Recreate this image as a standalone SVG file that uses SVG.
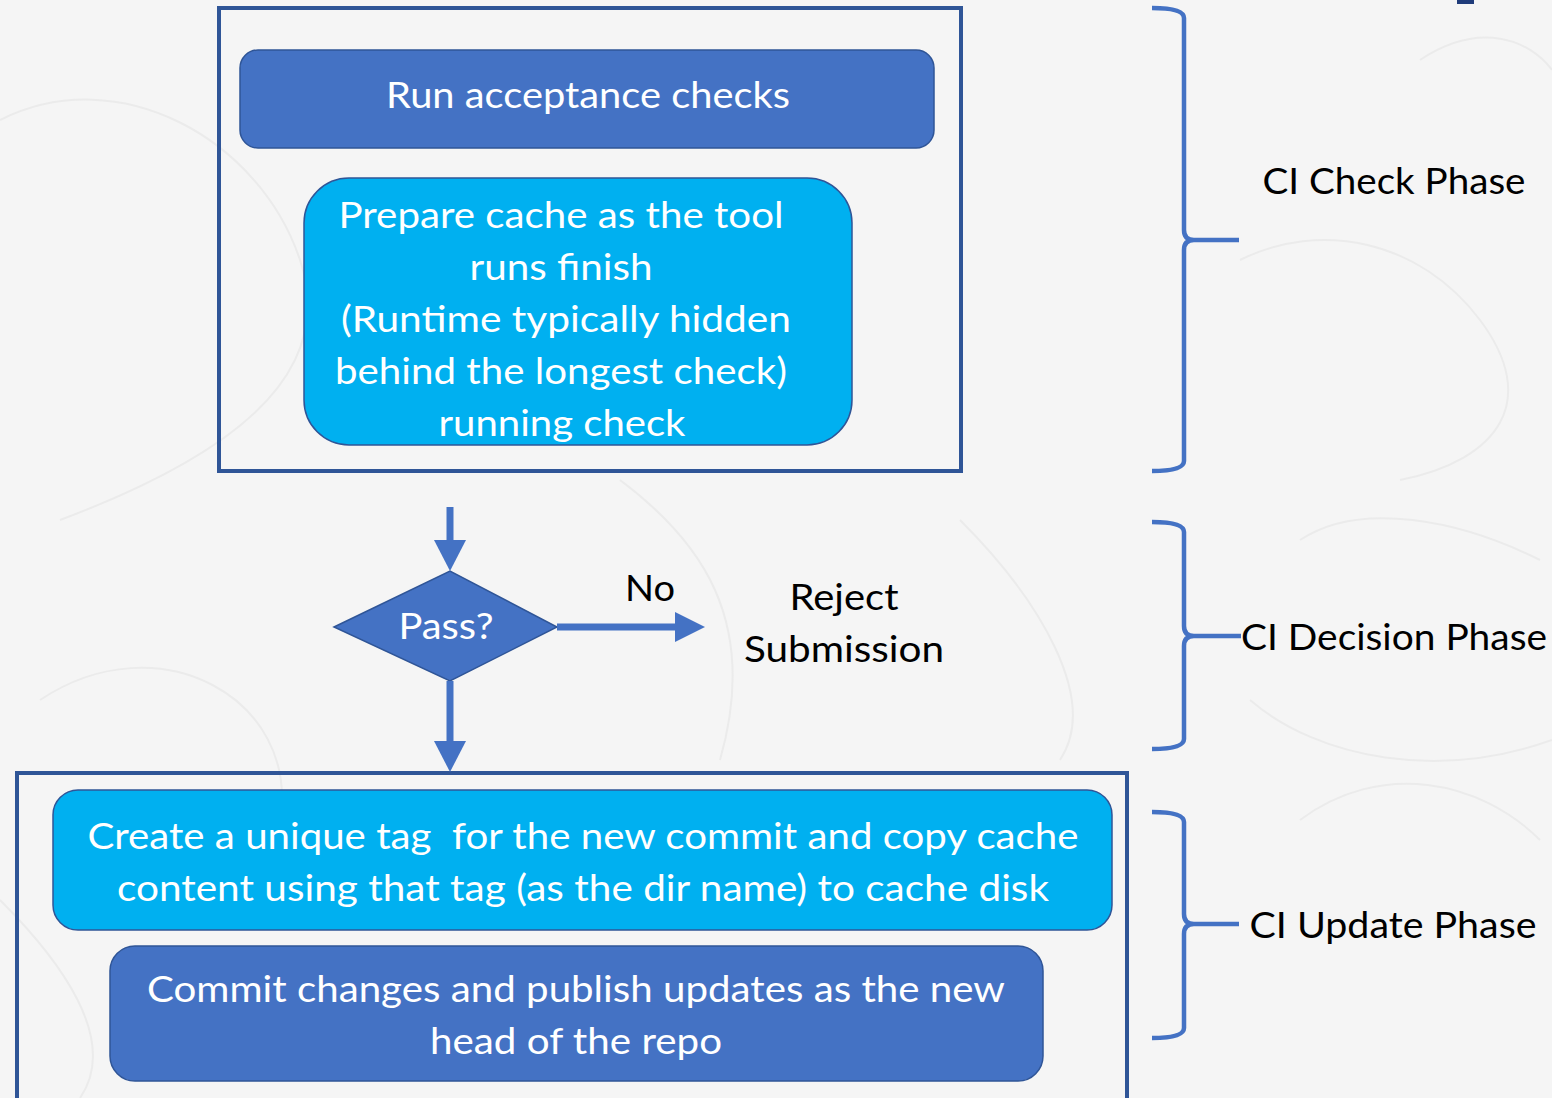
<svg xmlns="http://www.w3.org/2000/svg" width="1552" height="1098" viewBox="0 0 1552 1098">
  <style>
    .frame { fill: none; stroke: #2f5597; stroke-width: 4; }
    .dark { fill: #4472c4; stroke: #2f5597; stroke-width: 1.5; }
    .light { fill: #00b0f0; stroke: #2f5597; stroke-width: 1.5; }
    .wt { fill: #ffffff; font-family: Lato, "Open Sans", "Liberation Sans", sans-serif; font-size: 37px; text-anchor: middle; }
    .bk { fill: #000000; font-family: Lato, "Open Sans", "Liberation Sans", sans-serif; font-size: 37px; text-anchor: middle; }
    .conn { fill: none; stroke: #4472c4; stroke-width: 7; }
    .head { fill: #4472c4; }
    .brace { fill: none; stroke: #4472c4; stroke-width: 4.5; stroke-linejoin: round; }
    .topo { fill: none; stroke: #ebebeb; stroke-width: 2; }
  </style>

  <!-- page background with faint contour texture -->
  <rect x="0" y="0" width="1552" height="1098" fill="#f5f5f5"/>
  <g id="texture">
    <path class="topo" d="M0,120 C120,60 260,140 300,260 S220,460 60,520"/>
    <path class="topo" d="M40,700 C160,620 300,700 280,820"/>
    <path class="topo" d="M620,480 C700,540 760,620 720,760"/>
    <path class="topo" d="M960,520 C1040,600 1100,700 1060,760"/>
    <path class="topo" d="M1240,260 C1320,220 1420,240 1480,320 S1500,460 1400,480"/>
    <path class="topo" d="M1300,540 C1360,500 1460,520 1540,560"/>
    <path class="topo" d="M1250,700 C1320,760 1440,780 1552,740"/>
    <path class="topo" d="M1300,820 C1380,760 1480,780 1540,840"/>
    <path class="topo" d="M1420,60 C1480,20 1530,40 1552,70"/>
    <path class="topo" d="M0,900 C60,960 120,1040 80,1098"/>
  </g>
  <rect x="1457" y="0" width="17" height="4" fill="#1f3c7a"/>

  <!-- CI check phase frame -->
  <g id="check-frame">
    <rect class="frame" x="219" y="8" width="742" height="463"/>
  </g>

  <g id="run-checks">
    <rect class="dark" x="240" y="50" width="694" height="98" rx="18"/>
    <text class="wt" x="588" y="108" textLength="404" lengthAdjust="spacingAndGlyphs">Run acceptance checks</text>
  </g>

  <g id="prepare-cache">
    <rect class="light" x="304" y="178" width="548" height="267" rx="45"/>
    <text class="wt" x="561" y="228" textLength="445" lengthAdjust="spacingAndGlyphs">Prepare cache as the tool</text>
    <text class="wt" x="561" y="280" textLength="183" lengthAdjust="spacingAndGlyphs">runs finish</text>
    <text class="wt" x="566" y="332" textLength="450" lengthAdjust="spacingAndGlyphs">(Runtime typically hidden</text>
    <text class="wt" x="561" y="384" textLength="452" lengthAdjust="spacingAndGlyphs">behind the longest check)</text>
    <text class="wt" x="562" y="436" textLength="247" lengthAdjust="spacingAndGlyphs">running check</text>
  </g>

  <g id="pass-decision">
    <polygon class="dark" points="334,627 450,571 557,627 450,681"/>
    <text class="wt" x="446" y="639" textLength="95" lengthAdjust="spacingAndGlyphs">Pass?</text>
  </g>

  <g id="reject">
    <text class="bk" x="844" y="610" textLength="109" lengthAdjust="spacingAndGlyphs">Reject</text>
    <text class="bk" x="844" y="662" textLength="200" lengthAdjust="spacingAndGlyphs">Submission</text>
  </g>

  <!-- CI update phase frame -->
  <g id="update-frame">
    <rect class="frame" x="17" y="773" width="1110" height="340"/>
  </g>

  <g id="create-tag">
    <rect class="light" x="53" y="790" width="1059" height="140" rx="25"/>
    <text class="wt" x="583" y="849" textLength="991" lengthAdjust="spacingAndGlyphs" xml:space="preserve" style="white-space:pre">Create a unique tag  for the new commit and copy cache</text>
    <text class="wt" x="583" y="901" textLength="932" lengthAdjust="spacingAndGlyphs">content using that tag (as the dir name) to cache disk</text>
  </g>

  <g id="commit-publish">
    <rect class="dark" x="110" y="946" width="933" height="135" rx="25"/>
    <text class="wt" x="576" y="1002" textLength="858" lengthAdjust="spacingAndGlyphs">Commit changes and publish updates as the new</text>
    <text class="wt" x="576" y="1054" textLength="292" lengthAdjust="spacingAndGlyphs">head of the repo</text>
  </g>

  <!-- connectors -->
  <g id="connectors">
    <line class="conn" x1="450" y1="507" x2="450" y2="542"/>
    <polygon class="head" points="434,540 466,540 450,571"/>
    <line class="conn" x1="557" y1="627" x2="677" y2="627"/>
    <polygon class="head" points="675,612 705,627 675,642"/>
    <text class="bk" x="650" y="601" textLength="50" lengthAdjust="spacingAndGlyphs">No</text>
    <line class="conn" x1="450" y1="681" x2="450" y2="743"/>
    <polygon class="head" points="434,741 466,741 450,772"/>
  </g>

  <!-- phase braces and labels -->
  <g id="phase-check">
    <path class="brace" d="M1152,8 Q1184,8 1184,18 L1184,230 Q1184,240 1194,240 L1239,240 M1194,240 Q1184,240 1184,250 L1184,461 Q1184,471 1152,471"/>
    <text class="bk" x="1394" y="194" textLength="263" lengthAdjust="spacingAndGlyphs">CI Check Phase</text>
  </g>
  <g id="phase-decision">
    <path class="brace" d="M1152,522 Q1184,522 1184,532 L1184,626 Q1184,636 1194,636 L1241,636 M1194,636 Q1184,636 1184,646 L1184,739 Q1184,749 1152,749"/>
    <text class="bk" x="1394" y="650" textLength="306" lengthAdjust="spacingAndGlyphs">CI Decision Phase</text>
  </g>
  <g id="phase-update">
    <path class="brace" d="M1152,812 Q1184,812 1184,822 L1184,914 Q1184,924 1194,924 L1239,924 M1194,924 Q1184,924 1184,934 L1184,1028 Q1184,1038 1152,1038"/>
    <text class="bk" x="1393" y="938" textLength="287" lengthAdjust="spacingAndGlyphs">CI Update Phase</text>
  </g>
</svg>
